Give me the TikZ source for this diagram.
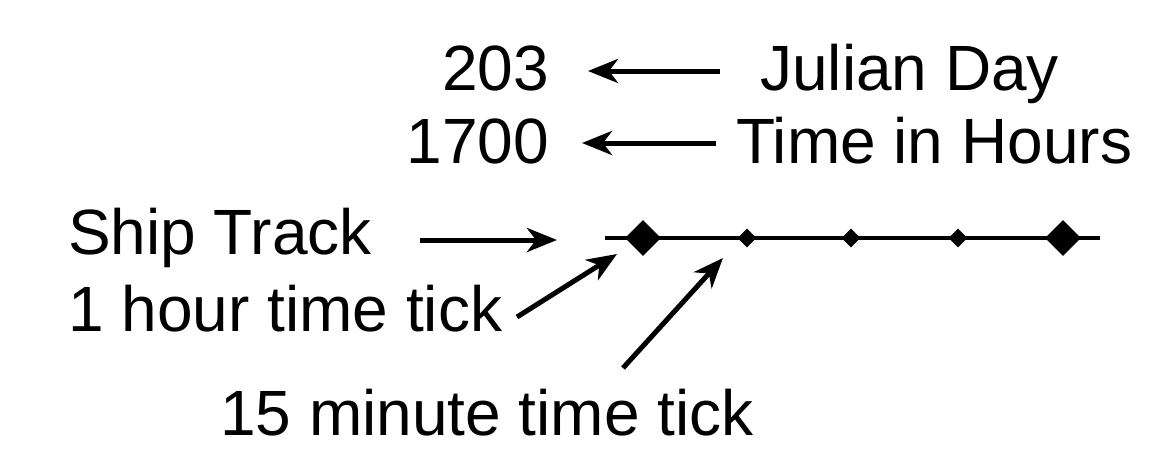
\documentclass[tikz,border=0pt]{standalone}
\usepackage{fontspec}
\setmainfont{Liberation Sans}
\usetikzlibrary{arrows.meta,shapes.geometric}
\begin{document}
\begin{tikzpicture}[x=1pt,y=-1pt,
  lbl/.style={inner sep=0pt,font=\fontsize{64}{72}\selectfont},
  arr/.style={line width=5pt,-{Stealth[length=30pt,width=24pt,inset=9pt]}},
  trk/.style={line width=4pt},
  bigtick/.style={fill=black,draw=none,diamond,inner sep=0pt,minimum size=36pt},
  smalltick/.style={fill=black,draw=none,diamond,inner sep=0pt,minimum size=19pt}]
\useasboundingbox (0,0) rectangle (1155,450);
% texts
\node[lbl,anchor=base east] (jd) at (549,90) {203};
\node[lbl,anchor=base west] (jdl) at (760,90) {Julian Day};
\node[lbl,anchor=base east] (hr) at (549,163) {1700};
\node[lbl,anchor=base west] (hrl) at (736,163) {Time in Hours};
\node[lbl,anchor=base west] (st) at (68,254) {Ship Track};
\node[lbl,anchor=base west] (ht) at (68,331) {1 hour time tick};
\node[lbl,anchor=base west] (mt) at (220,435) {15 minute time tick};
% track
\coordinate (t0) at (605,238);
\coordinate (t1) at (1100,238);
\draw[trk] (t0) -- (t1);
\node[bigtick] (b1) at (643,238) {};
\node[smalltick] (s1) at (747,238) {};
\node[smalltick] (s2) at (851,238) {};
\node[smalltick] (s3) at (958,238) {};
\node[bigtick] (b2) at (1063,238) {};
% arrows
\coordinate (a1s) at (720,71); \coordinate (a1e) at (588,71);
\draw[arr] (a1s) -- (a1e);
\coordinate (a2s) at (716,143); \coordinate (a2e) at (582,143);
\draw[arr] (a2s) -- (a2e);
\coordinate (a3s) at (420,240); \coordinate (a3e) at (557,240);
\draw[arr] (a3s) -- (a3e);
\coordinate (a4s) at (517,317); \coordinate (a4e) at (617,254);
\draw[arr] (a4s) -- (a4e);
\coordinate (a5s) at (623,368); \coordinate (a5e) at (723,258);
\draw[arr] (a5s) -- (a5e);
\end{tikzpicture}
\end{document}
